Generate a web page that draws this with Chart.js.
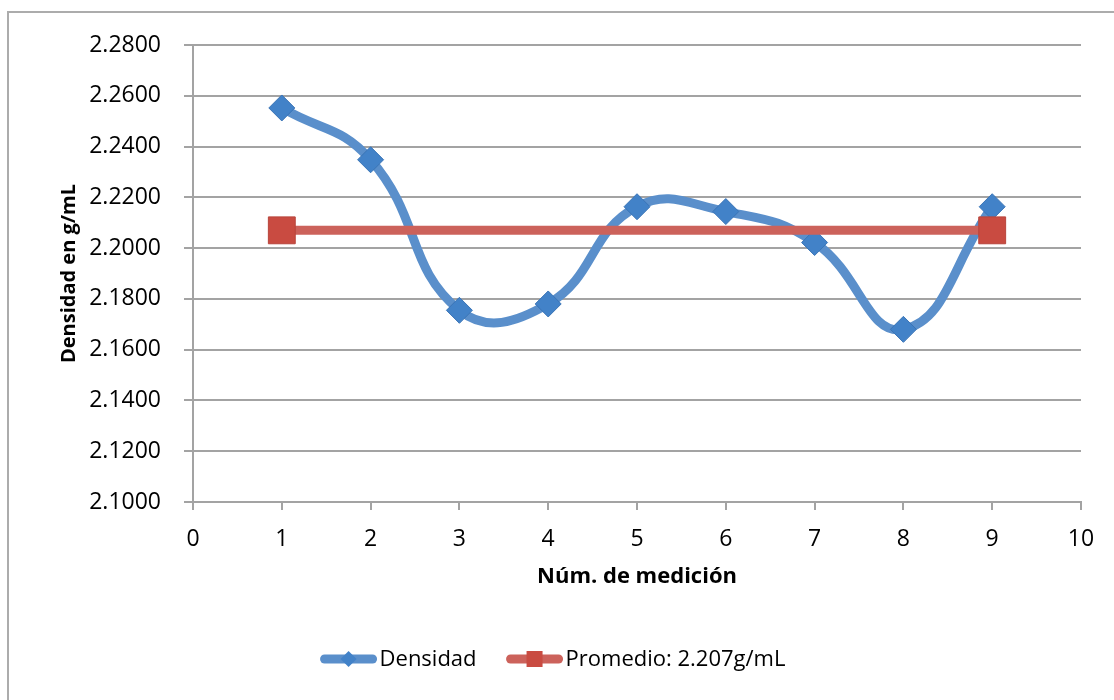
<!DOCTYPE html>
<html>
<head>
<meta charset="utf-8">
<script src="https://cdn.jsdelivr.net/npm/chart.js@4.4.1/dist/chart.umd.min.js"></script>
<style>
    html, body { margin: 0; padding: 0; background: #fff; }
    #frame {
        position: absolute; left: 7px; top: 11px;
        width: 1130px; height: 720px;
        border: 2px solid #acacac; box-sizing: border-box;
    }
    #chart { position: absolute; left: 0; top: 0; }
</style>
</head>
<body>
<div id="frame"></div>
<canvas id="chart" width="1114" height="700"></canvas>
<script>
// valores
const mediciones = [1, 2, 3, 4, 5, 6, 7, 8, 9];
const densidad = [2.2552, 2.2348, 2.1755, 2.1780, 2.2163, 2.2144, 2.2022, 2.1680, 2.2163];
const promedioX = [1, 9];
const promedioValor = 2.207;

const etiquetaDensidad = 'Densidad';
const etiquetaPromedio = 'Promedio: 2.207g/mL';
const tituloX = 'Núm. de medición';
const tituloY = 'Densidad en g/mL';

const yMin = 2.1, yMax = 2.28, yPaso = 0.02;
const xMin = 0, xMax = 10, xPaso = 1;

const FONT = '"Open Sans", sans-serif';
const gris = '#a3a3a3';

const azulLinea = '#5a8fcb';
const azulMarca = '#4282c8';
const rojoLinea = '#cc625b';
const rojoMarca = '#c94b41';

const puntosDensidad = mediciones.map((m, i) => ({ x: m, y: densidad[i] }));
const puntosPromedio = promedioX.map(m => ({ x: m, y: promedioValor }));

// leyenda dibujada a mano: linea + marcador + texto, como en Excel
const leyendaAbajo = {
    id: 'leyendaAbajo',
    afterDraw(chart) {
        const ctx = chart.ctx;
        const y = 659;
        const largo = 56;
        const sep = 3;
        const hueco = 30;
        ctx.save();
        ctx.font = '22px ' + FONT;
        const items = chart.data.datasets.map(ds => ({
            texto: ds.label,
            color: ds.borderColor,
            marca: ds.pointBackgroundColor,
            estilo: ds.pointStyle,
            ancho: ctx.measureText(ds.label).width
        }));
        let total = 0;
        items.forEach((it, i) => {
            total += largo + sep + it.ancho + (i < items.length - 1 ? hueco : 0);
        });
        let x = (chart.width - total) / 2 - 4;
        items.forEach(it => {
            ctx.strokeStyle = it.color;
            ctx.lineWidth = 9;
            ctx.lineCap = 'round';
            ctx.beginPath();
            ctx.moveTo(x + 4, y);
            ctx.lineTo(x + largo - 4, y);
            ctx.stroke();
            const cx = x + largo / 2;
            ctx.fillStyle = it.marca;
            ctx.beginPath();
            if (it.estilo === 'rectRot') {
                ctx.moveTo(cx - 8, y);
                ctx.lineTo(cx, y - 8);
                ctx.lineTo(cx + 8, y);
                ctx.lineTo(cx, y + 8);
                ctx.closePath();
            } else {
                ctx.rect(cx - 8, y - 8, 16, 16);
            }
            ctx.fill();
            ctx.fillStyle = '#000';
            ctx.textBaseline = 'middle';
            ctx.textAlign = 'left';
            ctx.fillText(it.texto, x + largo + sep, y + 1);
            x += largo + sep + it.ancho + hueco;
        });
        ctx.restore();
    }
};

const chart = new Chart('chart', {
    type: 'scatter',
    data: {
        datasets: [{
            label: etiquetaDensidad,
            data: puntosDensidad,
            showLine: true,
            borderColor: azulLinea,
            borderWidth: 9,
            tension: 0.45,
            pointStyle: 'rectRot',
            pointRadius: 13,
            pointBorderWidth: 1,
            pointBorderColor: '#3a74b6',
            pointBackgroundColor: azulMarca,
            order: 1
        }, {
            label: etiquetaPromedio,
            data: puntosPromedio,
            showLine: true,
            borderColor: rojoLinea,
            borderWidth: 9,
            pointStyle: 'rect',
            pointRadius: 19,
            pointBorderWidth: 1,
            pointBorderColor: '#b8453c',
            pointBackgroundColor: rojoMarca,
            order: 0
        }]
    },
    options: {
        responsive: false,
        animation: false,
        devicePixelRatio: 1,
        layout: {
            padding: { left: 0, top: 45, right: 33, bottom: 110 }
        },
        plugins: {
            legend: { display: false },
            tooltip: { enabled: false }
        },
        scales: {
            x: {
                type: 'linear',
                min: xMin,
                max: xMax,
                ticks: {
                    stepSize: xPaso,
                    color: '#000',
                    font: { family: FONT, size: 23 },
                    padding: 16,
                    maxRotation: 0
                },
                grid: {
                    drawOnChartArea: false,
                    drawTicks: true,
                    tickLength: 8,
                    color: gris,
                    lineWidth: 2
                },
                border: { display: true, color: gris, width: 2 },
                title: {
                    display: true,
                    text: tituloX,
                    color: '#000',
                    font: { family: FONT, size: 22, weight: 'bold' },
                    padding: { top: 0, bottom: 0 }
                },
                afterFit(scale) { scale.height = 88; }
            },
            y: {
                min: yMin,
                max: yMax,
                ticks: {
                    stepSize: yPaso,
                    color: '#000',
                    font: { family: FONT, size: 23 },
                    padding: 23,
                    callback: v => v.toFixed(4)
                },
                grid: {
                    color: gris,
                    lineWidth: 2,
                    tickLength: 9
                },
                border: { display: true, color: gris, width: 2 },
                title: {
                    display: true,
                    text: tituloY,
                    color: '#000',
                    font: { family: FONT, size: 20, weight: 'bold' },
                    padding: { top: 57, bottom: 0 }
                },
                afterFit(scale) { scale.width = 193; }
            }
        }
    },
    plugins: [leyendaAbajo]
});
</script>
</body>
</html>
